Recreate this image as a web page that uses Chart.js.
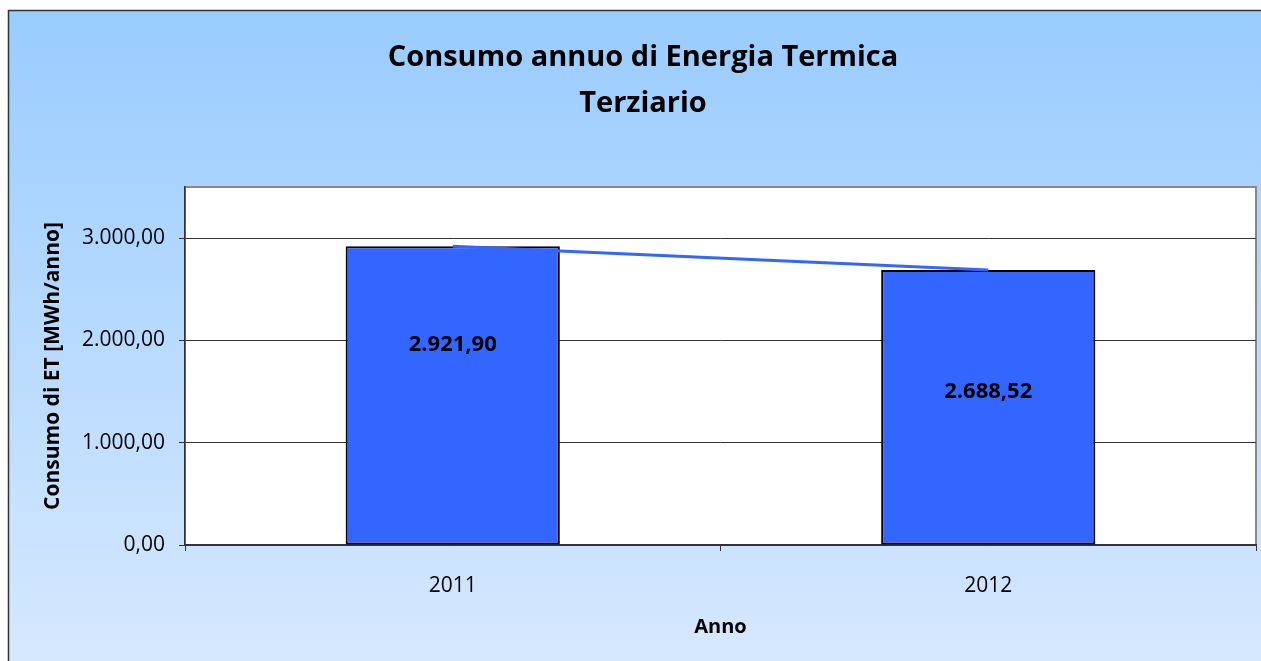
<!DOCTYPE html>
<html>
<head>
<meta charset="utf-8">
<script src="https://cdn.jsdelivr.net/npm/chart.js@4/dist/chart.umd.min.js"></script>
<style>
html,body{margin:0;padding:0;background:#fff;}
#wrap{position:absolute;left:0;top:0;width:1261px;height:661px;}
</style>
</head>
<body>
<div id="wrap"><canvas id="c" width="1261" height="661"></canvas></div>
<script>
const categories = ['2011', '2012'];
const consumo = [2921.90, 2688.52];
const yTickValues = [0, 1000, 2000, 3000];
const titleLines = ['Consumo annuo di Energia Termica', 'Terziario'];
const yTitle = 'Consumo di ET [MWh/anno]';
const xTitle = 'Anno';

function fmtIt(v) {
  const fixed = Math.abs(v).toFixed(2);
  const [intPart, dec] = fixed.split('.');
  const grouped = intPart.replace(/\B(?=(\d{3})+(?!\d))/g, '.');
  return (v < 0 ? '-' : '') + grouped + ',' + dec;
}

const FONT = "'Open Sans', 'DejaVu Sans', sans-serif";

const bgPlugin = {
  id: 'bgPlugin',
  beforeDraw(chart) {
    const ctx = chart.ctx;
    const W = chart.width, H = chart.height;
    ctx.save();
    ctx.fillStyle = '#ffffff';
    ctx.fillRect(0, 0, W, H);
    const g = ctx.createLinearGradient(0, 10, 0, H);
    g.addColorStop(0, '#99CCFF');
    g.addColorStop(1, '#D6E8FE');
    ctx.fillStyle = g;
    ctx.fillRect(8, 10, W, H);
    ctx.strokeStyle = '#333333';
    ctx.lineWidth = 1.5;
    ctx.strokeRect(8.5, 10.5, W + 10, H + 10);
    const a = chart.chartArea;
    ctx.fillStyle = '#ffffff';
    ctx.fillRect(a.left, a.top, a.right - a.left, a.bottom - a.top);
    ctx.strokeStyle = '#888888';
    ctx.lineWidth = 2;
    ctx.strokeRect(a.left, a.top, a.right - a.left, a.bottom - a.top);
    // chart title
    ctx.font = 'bold 29px ' + FONT;
    ctx.fillStyle = '#000000';
    ctx.textAlign = 'center';
    ctx.textBaseline = 'middle';
    const tx = 643;
    titleLines.forEach((t, i) => ctx.fillText(t, tx, 58 + i * 46));
    ctx.restore();
  }
};

const labelPlugin = {
  id: 'barLabels',
  afterDatasetsDraw(chart, args, opts) {
    const ctx = chart.ctx;
    const meta = chart.getDatasetMeta(0);
    ctx.save();
    ctx.font = 'bold 22px ' + FONT;
    ctx.fillStyle = '#000000';
    ctx.textAlign = 'center';
    ctx.textBaseline = 'middle';
    meta.data.forEach((bar, i) => {
      const f = opts.pos[i];
      const y = bar.base - (bar.base - bar.y) * f;
      ctx.fillText(fmtIt(consumo[i]), bar.x, y);
    });
    ctx.restore();
  }
};

new Chart(document.getElementById('c'), {
  data: {
    labels: categories,
    datasets: [
      {
        type: 'bar',
        data: consumo,
        backgroundColor: '#3366FF',
        borderColor: '#000000',
        borderWidth: 2,
        borderSkipped: false,
        barPercentage: 0.4,
        categoryPercentage: 1.0,
        order: 1
      },
      {
        type: 'line',
        data: consumo,
        borderColor: '#3366FF',
        borderWidth: 3,
        pointRadius: 0,
        fill: false,
        tension: 0,
        order: 0
      }
    ]
  },
  options: {
    responsive: false,
    animation: false,
    devicePixelRatio: 1,
    layout: { padding: { left: 0, right: 5, top: 187, bottom: 0 } },
    plugins: {
      legend: { display: false },
      tooltip: { enabled: false },
      title: { display: false },
      barLabels: { pos: [0.668, 0.558] }
    },
    scales: {
      x: {
        type: 'category',
        offset: true,
        grid: {
          display: true,
          offset: true,
          drawOnChartArea: false,
          drawTicks: true,
          tickLength: 6,
          color: '#333333'
        },
        border: { display: true, color: '#333333', width: 1.5 },
        ticks: {
          color: '#000000',
          font: { family: FONT, size: 21 },
          padding: 22,
          maxRotation: 0
        },
        title: {
          display: true,
          text: xTitle,
          color: '#000000',
          font: { family: FONT, size: 20, weight: 'bold' },
          padding: { top: 4, bottom: 22 }
        },
        afterFit(scale) { scale.height = 116; }
      },
      y: {
        type: 'linear',
        min: 0,
        max: 3500,
        ticks: {
          stepSize: 1000,
          color: '#000000',
          font: { family: FONT, size: 21 },
          padding: 14,
          callback: (v) => fmtIt(v)
        },
        afterBuildTicks(scale) {
          scale.ticks = yTickValues.map(v => ({ value: v }));
        },
        grid: {
          color: '#333333',
          lineWidth: 1,
          drawTicks: true,
          tickLength: 6
        },
        border: { display: true, color: '#333333', width: 1.5 },
        title: {
          display: true,
          text: yTitle,
          color: '#000000',
          font: { family: FONT, size: 21, weight: 'bold' },
          padding: { top: 40, bottom: 4 }
        },
        afterFit(scale) { scale.width = 185; }
      }
    }
  },
  plugins: [bgPlugin, labelPlugin]
});
</script>
</body>
</html>
